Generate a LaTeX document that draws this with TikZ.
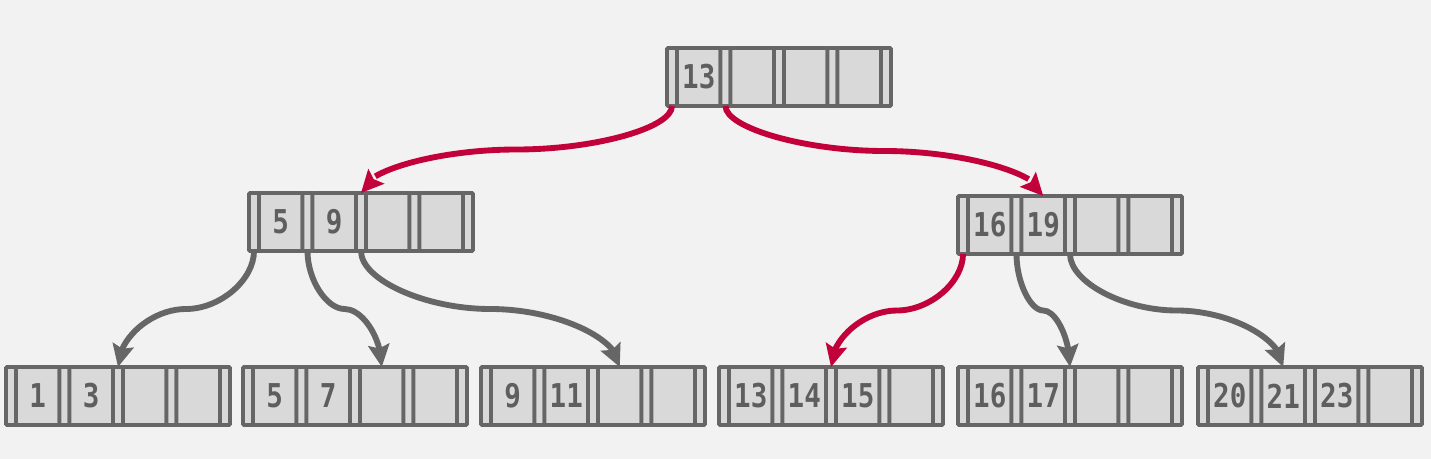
\documentclass[tikz,border=0pt]{standalone}
\usepackage{fontspec}
\newfontfamily\keyfont[FakeStretch=0.84]{DejaVu Sans Mono}
\usetikzlibrary{arrows.meta,bending,positioning,calc}
\definecolor{bggray}{HTML}{F2F2F2}
\definecolor{slotfill}{HTML}{D9D9D9}
\definecolor{slotline}{HTML}{666666}
\definecolor{keytext}{HTML}{5E5E5E}
\definecolor{pathred}{HTML}{C2003A}
\tikzset{slot/.style={draw=slotline, fill=slotfill, line width=3.2pt, rounded corners=0.8pt, outer sep=0pt, inner sep=0pt, minimum height=1.74cm, text=keytext, font=\keyfont\bfseries\fontsize{28}{28}\selectfont}}
\tikzset{ptr/.style={slot, minimum width=0.3cm}}
\tikzset{key/.style={slot, minimum width=1.305cm}}
\tikzset{arr/.style={color=slotline, line width=5pt, -{Stealth[length=19pt,width=18pt,inset=3pt,flex]}}}
\tikzset{hot/.style={color=pathred}}
% one tree node: name, west point, four keys
\newcommand{\bnode}[6]{
	\node[ptr, anchor=west] (#1-p0) at (#2) {};
	\node[key, right=0pt of #1-p0] (#1-k1) {#3};
	\node[ptr, right=0pt of #1-k1] (#1-p1) {};
	\node[key, right=0pt of #1-p1] (#1-k2) {#4};
	\node[ptr, right=0pt of #1-k2] (#1-p2) {};
	\node[key, right=0pt of #1-p2] (#1-k3) {#5};
	\node[ptr, right=0pt of #1-k3] (#1-p3) {};
	\node[key, right=0pt of #1-p3] (#1-k4) {#6};
	\node[ptr, right=0pt of #1-k4] (#1-p4) {};
}

\begin{document}
\begin{tikzpicture}[x=0.03cm, y=-0.03cm]
	\fill[bggray] (0,0) rectangle (1431,459);
	
	\bnode{R}{667,77}{13}{}{}{}
	\bnode{L}{249,222}{5}{9}{}{}
	\bnode{M}{958,225}{16}{19}{}{}
	
	\bnode{A}{6,396}{1}{3}{}{}
	\bnode{B}{243,396}{5}{7}{}{}
	\bnode{C}{481,396}{9}{11}{}{}
	\bnode{D}{719,396}{13}{14}{15}{}
	\bnode{E}{958,396}{16}{17}{}{}
	\bnode{F}{1198,396}{20}{21}{23}{}
	
	\draw[arr, hot] (R-p0.south) .. controls +(0,22) and +(78,0) .. ($(R-p0.south)!.5!(L-p2.north)$) .. controls +(-78,0) and +(0,-22) .. (L-p2.north);
	\draw[arr, hot] (R-p1.south) .. controls +(0,22) and +(-79,0) .. ($(R-p1.south)!.5!(M-k2.north)$) .. controls +(79,0) and +(0,-22) .. (M-k2.north);
	
	\draw[arr] (L-p0.south) .. controls +(0,29) and +(34,0) .. ($(L-p0.south)!.5!(A-p2.north)$) .. controls +(-34,0) and +(0,-29) .. (A-p2.north);
	\draw[arr] (L-p1.south) .. controls +(0,29) and +(-18,0) .. ($(L-p1.south)!.5!(B-k3.north)$) .. controls +(18,0) and +(0,-29) .. (B-k3.north);
	\draw[arr] (L-p2.south) .. controls +(0,29) and +(-65,0) .. ($(L-p2.south)!.5!(C-k3.north)$) .. controls +(65,0) and +(0,-29) .. (C-k3.north);
	
	\draw[arr, hot] (M-p0.south) .. controls +(0,28) and +(33,0) .. ($(M-p0.south)!.5!(D-p2.north)$) .. controls +(-33,0) and +(0,-28) .. (D-p2.north);
	\draw[arr] (M-p1.south) .. controls +(0,28) and +(-13,0) .. ($(M-p1.south)!.5!(E-p2.north)$) .. controls +(13,0) and +(0,-28) .. (E-p2.north);
	\draw[arr] (M-p2.south) .. controls +(0,28) and +(-53,0) .. ($(M-p2.south)!.5!(F-k2.north)$) .. controls +(53,0) and +(0,-28) .. (F-k2.north);
\end{tikzpicture}
\end{document}
